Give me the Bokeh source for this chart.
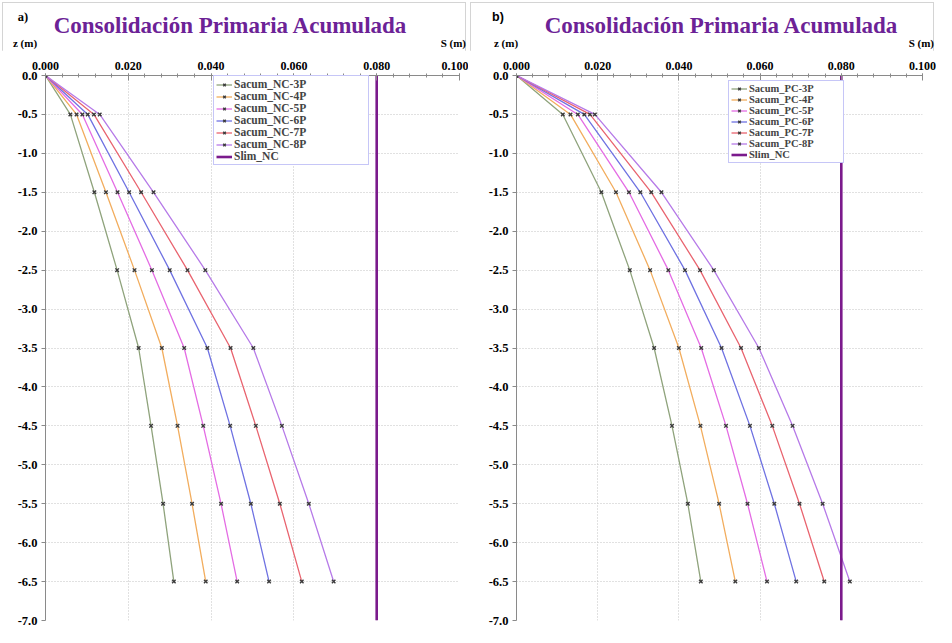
from bokeh.plotting import figure
from bokeh.models import (Range1d, FixedTicker, NumeralTickFormatter, Div,
                          Legend, LegendItem)
from bokeh.layouts import row, column
from bokeh.embed import file_html
from bokeh.resources import INLINE

# ---------------- data ----------------
z = [0.0, -0.5, -1.5, -2.5, -3.5, -4.5, -5.5, -6.5]

nc_names = ["Sacum_NC-3P", "Sacum_NC-4P", "Sacum_NC-5P",
            "Sacum_NC-6P", "Sacum_NC-7P", "Sacum_NC-8P"]
nc_3p = [0.0, 0.0060, 0.0118, 0.0173, 0.0225, 0.0255, 0.0284, 0.0310]
nc_4p = [0.0, 0.0075, 0.0146, 0.0215, 0.0281, 0.0319, 0.0354, 0.0387]
nc_5p = [0.0, 0.0089, 0.0174, 0.0257, 0.0335, 0.0381, 0.0424, 0.0463]
nc_6p = [0.0, 0.0102, 0.0202, 0.0300, 0.0391, 0.0446, 0.0496, 0.0540]
nc_7p = [0.0, 0.0117, 0.0231, 0.0343, 0.0447, 0.0508, 0.0566, 0.0619]
nc_8p = [0.0, 0.0131, 0.0261, 0.0386, 0.0502, 0.0571, 0.0636, 0.0696]

pc_names = ["Sacum_PC-3P", "Sacum_PC-4P", "Sacum_PC-5P",
            "Sacum_PC-6P", "Sacum_PC-7P", "Sacum_PC-8P"]
pc_3p = [0.0, 0.0114, 0.0209, 0.0279, 0.0339, 0.0383, 0.0422, 0.0454]
pc_4p = [0.0, 0.0133, 0.0245, 0.0329, 0.0400, 0.0453, 0.0499, 0.0539]
pc_5p = [0.0, 0.0151, 0.0277, 0.0374, 0.0455, 0.0516, 0.0569, 0.0617]
pc_6p = [0.0, 0.0167, 0.0305, 0.0415, 0.0505, 0.0575, 0.0635, 0.0689]
pc_7p = [0.0, 0.0181, 0.0332, 0.0452, 0.0553, 0.0630, 0.0697, 0.0758]
pc_8p = [0.0, 0.0193, 0.0357, 0.0486, 0.0597, 0.0680, 0.0754, 0.0821]

slim_name = "Slim_NC"
slim_value = 0.080
slim_z = [0.0, -7.0]

x_ticks = [0.0, 0.02, 0.04, 0.06, 0.08, 0.10]
y_ticks = [0.0, -0.5, -1.0, -1.5, -2.0, -2.5, -3.0, -3.5,
           -4.0, -4.5, -5.0, -5.5, -6.0, -6.5, -7.0]

title_text = "Consolidación Primaria Acumulada"
z_label = "z (m)"
s_label = "S (m)"

# ---------------- styles ----------------
series_colors = ["#8fa37c", "#f2ad5e", "#e46ce4", "#6f72e2", "#e9646f", "#b67ae8"]
slim_color = "#7b1a8c"
title_color = "#6c2296"
serif = "Times New Roman"
css_serif = "'Liberation Serif','Times New Roman',serif"
PANEL_W = 468
HEAD_H = 50
MAIN_H = 577
FRAME_TOP = 25
FRAME_H = 545


def make_panel(names, series, left, frame_w, legend_loc, legend_font,
               legend_label_w):
    right = PANEL_W - left - frame_w
    p = figure(width=PANEL_W, height=MAIN_H, output_backend="svg",
               toolbar_location=None, x_axis_location="above",
               x_range=Range1d(x_ticks[0], x_ticks[-1]),
               y_range=Range1d(y_ticks[-1], y_ticks[0]),
               min_border_left=left, min_border_right=right,
               min_border_top=FRAME_TOP,
               min_border_bottom=MAIN_H - FRAME_TOP - FRAME_H)
    p.outline_line_color = None
    p.background_fill_color = "white"
    p.border_fill_color = "white"

    minor = [round(i * 0.004, 4) for i in range(26)]
    p.xaxis.ticker = FixedTicker(ticks=x_ticks, minor_ticks=minor)
    p.yaxis.ticker = FixedTicker(ticks=y_ticks)
    p.xaxis.formatter = NumeralTickFormatter(format="0.000")
    p.yaxis.formatter = NumeralTickFormatter(format="0.0")
    for ax in (p.xaxis, p.yaxis):
        ax.major_label_text_font = serif
        ax.major_label_text_font_style = "bold"
        ax.major_label_text_color = "black"
        ax.axis_line_color = "#8a8a8a"
        ax.major_tick_line_color = "#8a8a8a"
        ax.minor_tick_line_color = "#8a8a8a"
    p.xaxis.major_label_text_font_size = "12px"
    p.yaxis.major_label_text_font_size = "12.5px"
    p.xaxis.major_tick_in = 5
    p.xaxis.major_tick_out = 2
    p.xaxis.minor_tick_in = 2
    p.xaxis.minor_tick_out = 2
    p.xaxis.major_label_standoff = 4
    p.yaxis.major_tick_in = 0
    p.yaxis.major_tick_out = 4
    p.yaxis.minor_tick_line_color = None
    p.yaxis.major_label_standoff = 4

    p.xgrid.ticker = FixedTicker(ticks=x_ticks)
    p.ygrid.ticker = FixedTicker(ticks=y_ticks)
    for g in (p.xgrid, p.ygrid):
        g.grid_line_color = "#c2c2c2"
        g.grid_line_dash = "1 2"
        g.grid_line_width = 1

    items = []
    for name, vals, col in zip(names, series, series_colors):
        rl = p.line(vals, z, line_color=col, line_width=1.3)
        rs = p.scatter(vals, z, marker="x", size=5, line_color="#3c3c3c",
                       line_width=1.4)
        items.append(LegendItem(label=name, renderers=[rl, rs]))
    rs_l = p.line([slim_value, slim_value], slim_z, line_color=slim_color,
                  line_width=2.6)
    items.append(LegendItem(label=slim_name, renderers=[rs_l]))

    leg = Legend(items=items, location=legend_loc)
    leg.label_text_font = serif
    leg.label_text_font_style = "bold"
    leg.label_text_font_size = legend_font
    leg.label_height = 9
    leg.glyph_height = 9
    leg.glyph_width = 16
    leg.label_width = legend_label_w
    leg.label_standoff = 2
    leg.spacing = 0
    leg.padding = 2
    leg.margin = 0
    leg.border_line_color = "#8e8ef0"
    leg.border_line_width = 1
    leg.background_fill_alpha = 1
    p.add_layout(leg)
    return p


def span(text, x, y, size, color="black", family=css_serif):
    return ('<span style="position:absolute;left:%dpx;top:%dpx;'
            'transform:translate(-50%%,-50%%);white-space:nowrap;'
            'line-height:1;font-family:%s;font-weight:bold;'
            'font-size:%s;color:%s;">%s</span>'
            % (x, y, family, size, color, text))


def span_right(text, x, y, size):
    return ('<span style="position:absolute;right:%dpx;top:%dpx;'
            'transform:translateY(-50%%);white-space:nowrap;'
            'line-height:1;font-family:%s;font-weight:bold;'
            'font-size:%s;color:black;">%s</span>'
            % (PANEL_W - x, y, css_serif, size, text))


def make_header(tag, tag_font, tag_x, title_x, z_x, s_x):
    html = ('<div style="position:relative;width:%dpx;height:%dpx;'
            'margin:0;padding:0;">' % (PANEL_W, HEAD_H)
            + span(tag, tag_x, 17, "12.5px", family=tag_font)
            + span(title_text, title_x, 25, "23px", color=title_color)
            + span(z_label, z_x, 43, "11px")
            + span_right(s_label, s_x, 43, "11px")
            + '</div>')
    return Div(text=html, width=PANEL_W, height=HEAD_H, margin=0,
               styles={"margin": "0", "padding": "0"})


pa = make_panel(nc_names, [nc_3p, nc_4p, nc_5p, nc_6p, nc_7p, nc_8p],
                45, 414, (168, 455), "11.5px", 132)
pb = make_panel(pc_names, [pc_3p, pc_4p, pc_5p, pc_6p, pc_7p, pc_8p],
                48, 406, (212, 457), "10.5px", 92)

ha = make_header("a)", css_serif, 23, 230, 25, 466)
hb = make_header("b)", "'Liberation Sans',Arial,sans-serif", 30, 253, 38, 466)

panel_style = {"outline": "1px solid #d4d4d4", "outline-offset": "-3px"}
ca = column(ha, pa, spacing=0, styles=panel_style)
cb = column(hb, pb, spacing=0, styles=panel_style)
layout = row(ca, cb, spacing=0)
open("out.html", "w").write(file_html(layout, INLINE))
